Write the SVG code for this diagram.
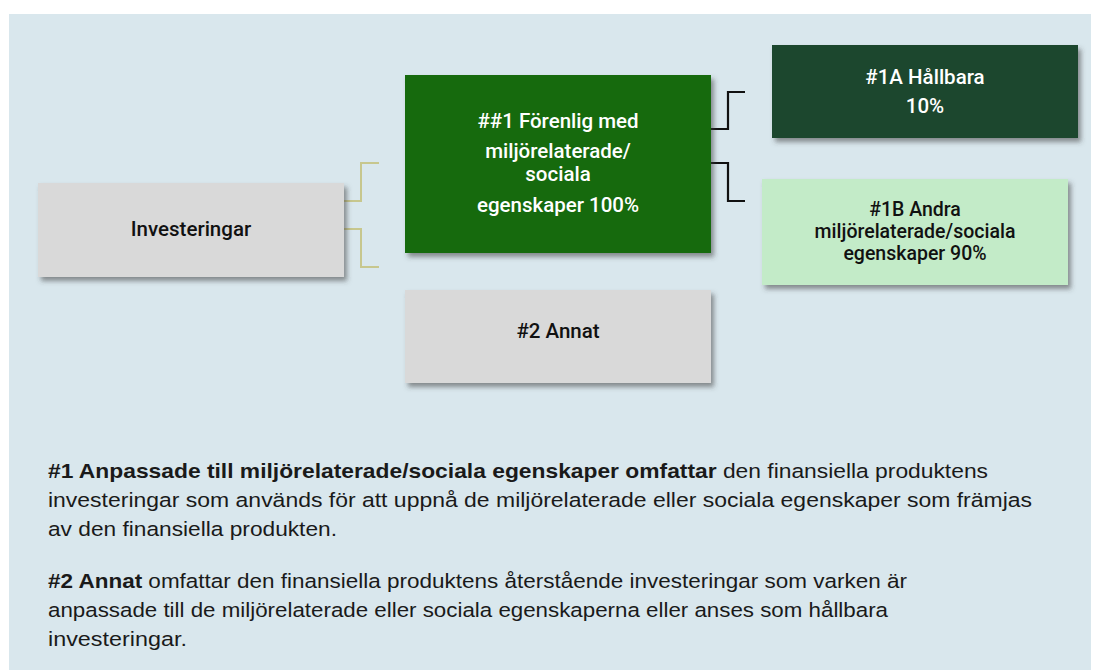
<svg xmlns="http://www.w3.org/2000/svg" width="1095" height="670" viewBox="0 0 1095 670">
<defs>
<filter id="sh" x="-10%" y="-10%" width="130%" height="140%">
<feDropShadow dx="3" dy="4" stdDeviation="2.5" flood-color="#404040" flood-opacity="0.55"/>
</filter>
<style>
.box{filter:url(#sh)}
.bt{font-family:Roboto,"Liberation Sans",sans-serif;font-weight:500;font-size:20.5px;text-anchor:middle}
.sm{font-size:19.5px}
.w{fill:#ffffff}
.k{fill:#111111}
.p{font-family:"Liberation Sans",Arial,sans-serif;font-size:20.5px;fill:#1a1a1a}
.b{font-weight:bold}
.c1{fill:none;stroke:#c7c78e;stroke-width:2}
.c2{fill:none;stroke:#111111;stroke-width:2.2}
</style>
</defs>
<rect x="9" y="14" width="1082" height="656" fill="#d9e7ed"/>
<g id="connectors">
<path class="c1" d="M344 201 H361 V163 H379"/>
<path class="c1" d="M344 229 H361 V267 H379"/>
<path class="c2" d="M711 129 H728 V92 H745"/>
<path class="c2" d="M711 163 H728 V201 H745"/>
</g>
<g id="investeringar">
<rect class="box" x="38" y="183" width="306" height="94" fill="#d9d9d9"/>
<text class="bt k" x="191" y="236">Investeringar</text>
</g>
<g id="n1">
<rect class="box" x="405" y="75" width="306" height="178" fill="#166a0e"/>
<text class="bt w" x="558" y="128">##1 Förenlig med</text>
<text class="bt w" x="558" y="158">miljörelaterade/</text>
<text class="bt w" x="558" y="181">sociala</text>
<text class="bt w" x="558" y="212">egenskaper 100%</text>
</g>
<g id="n1a">
<rect class="box" x="772" y="45" width="306" height="93" fill="#1f472d"/>
<text class="bt w" x="925" y="84">#1A Hållbara</text>
<text class="bt w" x="925" y="113">10%</text>
</g>
<g id="n1b">
<rect class="box" x="762" y="179" width="306" height="106" fill="#c3ebc8"/>
<text class="bt sm k" x="915" y="216">#1B Andra</text>
<text class="bt sm k" x="915" y="238">miljörelaterade/sociala</text>
<text class="bt sm k" x="915" y="260">egenskaper 90%</text>
</g>
<g id="n2">
<rect class="box" x="405" y="290" width="306" height="93" fill="#d9d9d9"/>
<text class="bt k" x="558" y="338">#2 Annat</text>
</g>
<g id="legend">
<text class="p" x="48" y="478" textLength="940" lengthAdjust="spacingAndGlyphs"><tspan class="b">#1 Anpassade till miljörelaterade/sociala egenskaper omfattar</tspan> den finansiella produktens</text>
<text class="p" x="48" y="507" textLength="984" lengthAdjust="spacingAndGlyphs">investeringar som används för att uppnå de miljörelaterade eller sociala egenskaper som främjas</text>
<text class="p" x="48" y="536" textLength="289" lengthAdjust="spacingAndGlyphs">av den finansiella produkten.</text>
<text class="p" x="48" y="588" textLength="859" lengthAdjust="spacingAndGlyphs"><tspan class="b">#2 Annat</tspan> omfattar den finansiella produktens återstående investeringar som varken är</text>
<text class="p" x="48" y="617" textLength="840" lengthAdjust="spacingAndGlyphs">anpassade till de miljörelaterade eller sociala egenskaperna eller anses som hållbara</text>
<text class="p" x="48" y="646" textLength="139" lengthAdjust="spacingAndGlyphs">investeringar.</text>
</g>
</svg>
